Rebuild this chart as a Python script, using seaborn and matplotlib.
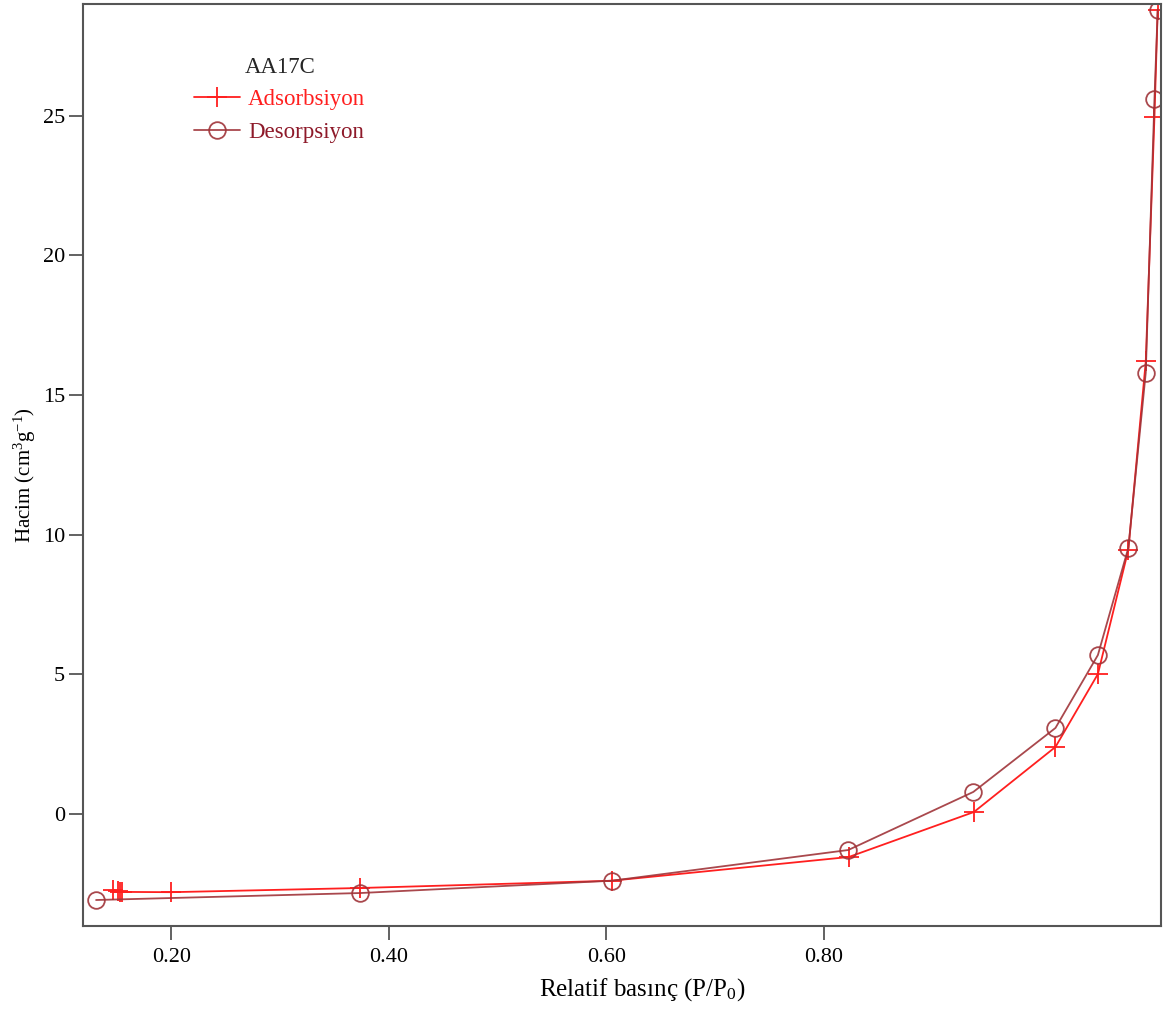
"""
Azot adsorpsiyon / desorpsiyon izotermi (AA17C).
"""

import matplotlib
matplotlib.use('Agg')
import matplotlib.pyplot as plt
import seaborn as sns
import pandas as pd

# -----------------------------------------------------------------------------
# Data
# -----------------------------------------------------------------------------

ads_p = [0.147, 0.151, 0.153, 0.155, 0.200, 0.374, 0.605, 0.823, 0.938,
         1.013, 1.052, 1.080, 1.096, 1.104, 1.107]
ads_v = [-2.72, -2.76, -2.78, -2.79, -2.80, -2.65, -2.39, -1.54, 0.07,
         2.40, 5.01, 9.46, 16.2, 24.96, 28.8]

des_p = [0.131, 0.374, 0.605, 0.8225, 0.9375, 1.013, 1.052, 1.080, 1.096,
         1.104, 1.107]
des_v = [-3.08, -2.83, -2.39, -1.29, 0.79, 3.08, 5.69, 9.53, 15.8, 25.6, 28.8]

x_ticks = [0.20, 0.40, 0.60, 0.80]
x_tick_labels = ['0.20', '0.40', '0.60', '0.80']
y_ticks = [0, 5, 10, 15, 20, 25]

sample_name = 'AA17C'
ads_label = 'Adsorbsiyon'
des_label = 'Desorpsiyon'

ADS_COLOR = '#ff1f1f'
DES_COLOR = '#a03439'
DES_TEXT = '#8e1a2a'

# -----------------------------------------------------------------------------
# Style
# -----------------------------------------------------------------------------

sns.set_theme(style='ticks')
plt.rcParams['font.family'] = ['Liberation Serif', 'DejaVu Serif']
plt.rcParams['mathtext.fontset'] = 'custom'
plt.rcParams['mathtext.rm'] = 'Liberation Serif'
plt.rcParams['mathtext.it'] = 'Liberation Serif:italic'

df_ads = pd.DataFrame({'p': ads_p, 'v': ads_v})
df_des = pd.DataFrame({'p': des_p, 'v': des_v})

fig = plt.figure(figsize=(11.66, 10.14), dpi=100)
ax = fig.add_axes([0.0712, 0.0868, 0.9245, 0.9093])

sns.lineplot(data=df_ads, x='p', y='v', sort=False, estimator=None, ax=ax,
             color=ADS_COLOR, linewidth=1.3, marker='+', markersize=14,
             markeredgecolor=ADS_COLOR, markeredgewidth=1.3,
             label=ads_label)
sns.lineplot(data=df_des, x='p', y='v', sort=False, estimator=None, ax=ax,
             color=DES_COLOR, linewidth=1.3, alpha=0.9, marker='o',
             markersize=12, markerfacecolor='none',
             markeredgecolor=DES_COLOR, markeredgewidth=1.3,
             label=des_label)

ax.set_xlim(0.119, 1.110)
ax.set_ylim(-4.01, 29.0)
ax.set_xticks(x_ticks)
ax.set_xticklabels(x_tick_labels)
ax.set_yticks(y_ticks)

ax.tick_params(axis='both', direction='out', length=10, width=1.3,
               color='#555555', labelsize=16, pad=3, labelcolor='black')
ax.tick_params(axis='x', pad=6)
for side in ['top', 'right', 'bottom', 'left']:
    ax.spines[side].set_visible(True)
    ax.spines[side].set_color('#555555')
    ax.spines[side].set_linewidth(1.5)

ax.set_xlabel(r'Relatif basınç (P/P$_0$)', fontsize=18, color='black')
ax.set_ylabel(r'Hacim (cm$^3$g$^{-1}$)', fontsize=15, color='black')
ax.xaxis.set_label_coords(0.519, -0.054)
ax.yaxis.set_label_coords(-0.042, 0.489)

leg = ax.legend(title=sample_name, frameon=False, loc='upper left',
                bbox_to_anchor=(0.084, 0.965), fontsize=16.5,
                title_fontsize=16.5, handlelength=2.0, handletextpad=0.35,
                labelspacing=0.5)
leg.get_texts()[0].set_color(ADS_COLOR)
leg.get_texts()[1].set_color(DES_TEXT)

fig.savefig('out.png', dpi=100)
